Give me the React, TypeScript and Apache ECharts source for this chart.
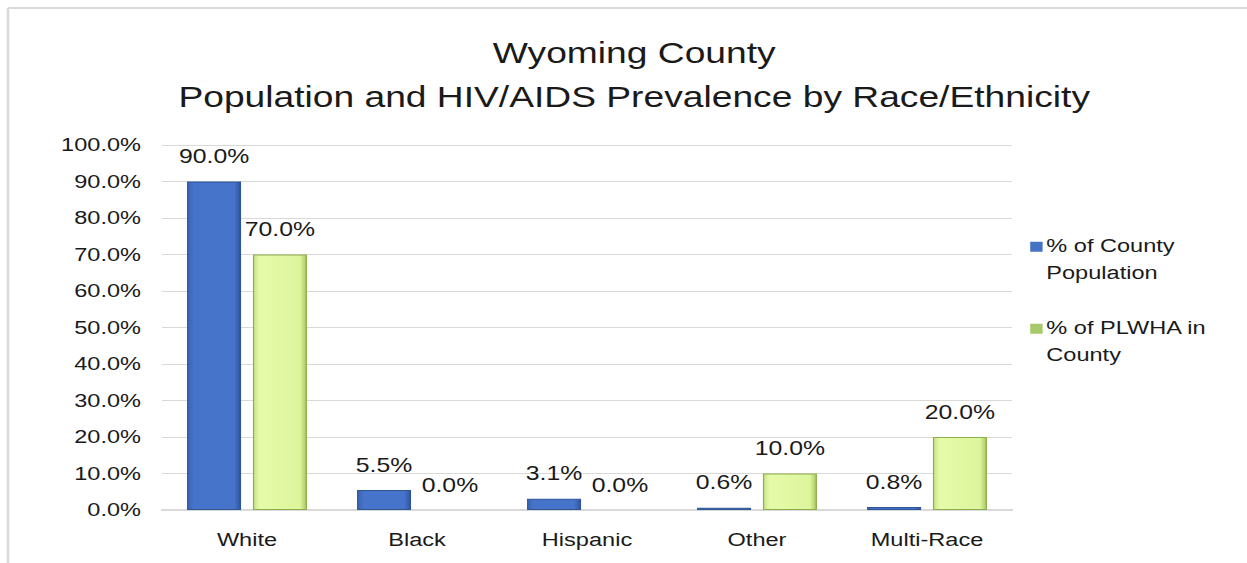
import React, { useEffect, useRef } from "react";
import * as echarts from "echarts";

const categories = ["White", "Black", "Hispanic", "Other", "Multi-Race"];
const countyPopulation = [90.0, 5.5, 3.1, 0.6, 0.8];
const plwha = [70.0, 0.0, 0.0, 10.0, 20.0];
const seriesNames = ["% of County Population", "% of PLWHA in County"];
const legendLabels: Record<string, string> = {
  "% of County Population": "% of County\nPopulation",
  "% of PLWHA in County": "% of PLWHA in\nCounty",
};

// the reference picture is horizontally stretched; draw in a narrower box and stretch it
const STRETCH = 1.24;
const W = 1247;
const H = 563;
const IW = Math.round(W / STRETCH);
const sx = (x: number) => x / STRETCH;

export default function App() {
  const ref = useRef<HTMLDivElement>(null);
  useEffect(() => {
    document.body.style.margin = "0";
    document.body.style.overflow = "hidden";
    const chart = echarts.init(ref.current!, null, { renderer: "svg" });
    const font = "Liberation Sans, Arial, sans-serif";
    const blueFill = new echarts.graphic.LinearGradient(0, 0, 1, 0, [
      { offset: 0, color: "#3A64B5" },
      { offset: 0.12, color: "#4674CA" },
      { offset: 0.88, color: "#4674CA" },
      { offset: 1, color: "#2E55A0" },
    ]);
    const greenFill = new echarts.graphic.LinearGradient(0, 0, 1, 0, [
      { offset: 0, color: "#C9E68A" },
      { offset: 0.12, color: "#E6FBAA" },
      { offset: 0.88, color: "#DDF59C" },
      { offset: 1, color: "#A9C965" },
    ]);
    const labelCfg = {
      show: true,
      position: "top",
      distance: 15,
      fontSize: 20,
      fontFamily: font,
      color: "#1a1a1a",
      formatter: (p: any) => Number(p.value).toFixed(1) + "%",
    };
    const toItems = (arr: number[]) =>
      arr.map((v) =>
        v === 0 ? { value: v, itemStyle: { borderWidth: 0, color: "rgba(0,0,0,0)" } } : { value: v }
      );
    // square at the top of a taller (invisible) box so it sits beside the first text line
    const legendIcon = "path://M0,0L11,0L11,11L0,11Z M0,38L0,38Z";
    chart.setOption({
      animation: false,
      backgroundColor: "#ffffff",
      title: {
        text: "Wyoming County\nPopulation and HIV/AIDS Prevalence by Race/Ethnicity",
        left: sx(628),
        textAlign: "center",
        top: 25,
        textStyle: {
          fontSize: 30,
          fontWeight: "normal",
          fontFamily: font,
          color: "#1a1a1a",
          lineHeight: 44,
        },
      },
      legend: {
        orient: "vertical",
        left: sx(1024),
        top: 227,
        itemWidth: 10,
        itemHeight: 38,
        itemGap: 28,
        data: [
          { name: seriesNames[0], icon: legendIcon, itemStyle: { color: "#4472C4", borderWidth: 0 } },
          { name: seriesNames[1], icon: legendIcon, itemStyle: { color: "#A8C96A", borderWidth: 0 } },
        ],
        formatter: (n: string) => legendLabels[n] || n,
        textStyle: { fontSize: 19, fontFamily: font, color: "#1a1a1a", lineHeight: 27, padding: [0, 0, 0, -2] },
      },
      grid: { left: sx(162), right: IW - sx(1012), top: 145, bottom: 53 },
      xAxis: {
        type: "category",
        data: categories,
        axisLine: { lineStyle: { color: "#d9d9d9", width: 2 } },
        axisTick: { show: false },
        axisLabel: { fontSize: 19, fontFamily: font, color: "#1a1a1a", margin: 20 },
      },
      yAxis: {
        type: "value",
        min: 0,
        max: 100,
        interval: 10,
        axisLine: { show: false },
        axisTick: { show: false },
        splitLine: { lineStyle: { color: "#d9d9d9", width: 1 } },
        axisLabel: {
          fontSize: 19,
          fontFamily: font,
          color: "#1a1a1a",
          margin: sx(21),
          formatter: (v: number) => v.toFixed(1) + "%",
        },
      },
      series: [
        {
          name: seriesNames[0],
          type: "bar",
          data: toItems(countyPopulation),
          barWidth: sx(54),
          barGap: "22%",
          itemStyle: { color: blueFill, borderColor: "#2F5597", borderWidth: 1 },
          label: labelCfg,
        },
        {
          name: seriesNames[1],
          type: "bar",
          data: toItems(plwha),
          barWidth: sx(54),
          barGap: "22%",
          itemStyle: { color: greenFill, borderColor: "#8DAE4C", borderWidth: 1 },
          label: labelCfg,
        },
      ],
      graphic: [
        { type: "line", shape: { x1: sx(8), y1: 8, x2: IW, y2: 8 }, style: { stroke: "#d9d9d9", lineWidth: 2 } },
        { type: "line", shape: { x1: sx(8), y1: 8, x2: sx(8), y2: H }, style: { stroke: "#d9d9d9", lineWidth: 2 } },
      ],
    });
    return () => chart.dispose();
  }, []);
  return (
    <div style={{ width: W, height: H, overflow: "hidden" }}>
      <div
        ref={ref}
        style={{ width: IW, height: H, transform: `scaleX(${STRETCH})`, transformOrigin: "0 0" }}
      />
    </div>
  );
}
